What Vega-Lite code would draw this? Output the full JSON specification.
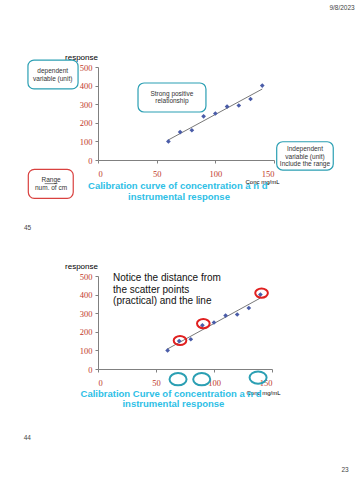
{
  "$schema": "https://vega.github.io/schema/vega-lite/v6.json",
  "autosize": "none",
  "padding": {"left": 98, "top": 67, "right": 262, "bottom": 413},
  "background": "white",
  "spacing": 116,
  "bounds": "flush",
  "config": {
    "view": {"stroke": null},
    "axis": {
      "grid": false,
      "labelFont": "Liberation Serif",
      "labelFontSize": 8.5,
      "labelColor": "#c0392b",
      "labelOverlap": false,
      "domainColor": "#808080",
      "tickColor": "#808080",
      "tickSize": 3,
      "titleFont": "Liberation Sans",
      "titleFontWeight": "normal",
      "titleColor": "#000000"
    }
  },
  "datasets": {
    "pts": [
      {"conc": 60, "response": 100},
      {"conc": 70, "response": 150},
      {"conc": 80, "response": 160},
      {"conc": 90, "response": 235},
      {"conc": 100, "response": 250},
      {"conc": 110, "response": 287},
      {"conc": 120, "response": 293},
      {"conc": 130, "response": 328},
      {"conc": 140, "response": 400}
    ],
    "topBoxes": [
      {"x": -59.7, "x2": -17, "y": 537, "y2": 382, "kind": "teal"},
      {"x": 34.1, "x2": 92, "y": 414, "y2": 258, "kind": "teal"},
      {"x": 152.3, "x2": 200.5, "y": 98, "y2": -54, "kind": "teal"},
      {"x": -59.4, "x2": -21.1, "y": -50, "y2": -206, "kind": "red"}
    ],
    "topBoxText": [
      {"x": -38.6, "y": 478, "t": "dependent"},
      {"x": -38.6, "y": 435, "t": "variable (unit)"},
      {"x": 63, "y": 355, "t": "Strong positive"},
      {"x": 63, "y": 317, "t": "relationship"},
      {"x": 176.4, "y": 59, "t": "Independent"},
      {"x": 176.4, "y": 18, "t": "variable (unit)"},
      {"x": 176.4, "y": -20, "t": "Include the range"},
      {"x": -40, "y": -110, "t": "Range"},
      {"x": -40, "y": -150, "t": "num. of cm"}
    ],
    "topTitle": [
      {"x": 68, "y": -140, "t": "Calibration curve of concentration a n d"},
      {"x": 69, "y": -197, "t": "instrumental response"}
    ],
    "topFooter": [
      {"x": 208, "y": 817, "t": "9/8/2023"},
      {"x": -60, "y": -366, "t": "45"}
    ],
    "rangeLine": [
      {"x": -45.5, "x2": -34.5, "y": -127}
    ],
    "notice": [
      {"x": 13, "y": 488, "t": "Notice the distance from"},
      {"x": 13, "y": 425, "t": "the scatter points"},
      {"x": 13, "y": 366, "t": "(practical) and the line"}
    ],
    "redRings": [
      {"x": 70.7, "y": 153},
      {"x": 90.8, "y": 244},
      {"x": 141, "y": 408}
    ],
    "tealRings": [
      {"x": 69, "y": -55},
      {"x": 89.4, "y": -55},
      {"x": 138, "y": -46}
    ],
    "botTitle": [
      {"x": 63, "y": -136, "t": "Calibration Curve of concentration a n d"},
      {"x": 65, "y": -190, "t": "instrumental response"}
    ],
    "botFooter": [
      {"x": -61, "y": -372, "t": "44"},
      {"x": 213, "y": -545, "t": "23"}
    ]
  },
  "vconcat": [
    {
      "width": 176,
      "height": 93,
      "layer": [
        {
          "data": {"name": "topBoxes"},
          "mark": {"type": "rect", "fill": "white", "cornerRadius": 6, "strokeWidth": 1.2},
          "encoding": {
            "x": {"field": "x", "type": "quantitative", "scale": {"domain": [0, 150], "nice": false}, "axis": {"values": [0, 50, 100, 150], "tickCount": 4, "labelOverlap": false, "title": "Conc mg/mL", "titleFontSize": 6, "titleX": 164, "titleY": 21, "titleAnchor": "middle", "titleAlign": "center", "titleBaseline": "middle", "labelPadding": 6}},
            "x2": {"field": "x2"},
            "y": {"field": "y", "type": "quantitative", "scale": {"domain": [0, 500], "nice": false}, "axis": {"values": [0, 100, 200, 300, 400, 500], "tickCount": 6, "labelOverlap": false, "title": "response", "titleFontSize": 8, "titleAngle": 0, "titleX": -17, "titleY": -10, "titleAlign": "center", "titleBaseline": "middle", "labelPadding": 3}},
            "y2": {"field": "y2"},
            "stroke": {"field": "kind", "type": "nominal", "scale": {"domain": ["teal", "red"], "range": ["#2b9fb3", "#d9413f"]}, "legend": null}
          }
        },
        {
          "data": {"name": "topBoxText"},
          "mark": {"type": "text", "font": "Liberation Sans", "fontSize": 6.5, "color": "#333333", "baseline": "middle", "align": "center"},
          "encoding": {
            "x": {"field": "x", "type": "quantitative"},
            "y": {"field": "y", "type": "quantitative"},
            "text": {"field": "t"}
          }
        },
        {
          "data": {"name": "rangeLine"},
          "mark": {"type": "rule", "color": "#333333", "strokeWidth": 0.6},
          "encoding": {
            "x": {"field": "x", "type": "quantitative"},
            "x2": {"field": "x2"},
            "y": {"field": "y", "type": "quantitative"}
          }
        },
        {
          "data": {"name": "pts"},
          "transform": [{"regression": "response", "on": "conc"}],
          "mark": {"type": "line", "color": "#555555", "strokeWidth": 0.8},
          "encoding": {
            "x": {"field": "conc", "type": "quantitative"},
            "y": {"field": "response", "type": "quantitative"}
          }
        },
        {
          "data": {"name": "pts"},
          "mark": {"type": "point", "shape": "diamond", "filled": true, "color": "#4a5ca8", "size": 22, "opacity": 1},
          "encoding": {
            "x": {"field": "conc", "type": "quantitative"},
            "y": {"field": "response", "type": "quantitative"}
          }
        },
        {
          "data": {"name": "topTitle"},
          "mark": {"type": "text", "font": "Liberation Sans", "fontSize": 9.5, "fontWeight": "bold", "color": "#2ec0e6", "baseline": "middle", "align": "center"},
          "encoding": {
            "x": {"field": "x", "type": "quantitative"},
            "y": {"field": "y", "type": "quantitative"},
            "text": {"field": "t"}
          }
        },
        {
          "data": {"name": "topFooter"},
          "mark": {"type": "text", "font": "Liberation Sans", "fontSize": 6.5, "color": "#444444", "baseline": "middle", "align": "center"},
          "encoding": {
            "x": {"field": "x", "type": "quantitative"},
            "y": {"field": "y", "type": "quantitative"},
            "text": {"field": "t"}
          }
        }
      ]
    },
    {
      "width": 174,
      "height": 93,
      "layer": [
        {
          "data": {"name": "pts"},
          "transform": [{"regression": "response", "on": "conc"}],
          "mark": {"type": "line", "color": "#555555", "strokeWidth": 0.8},
          "encoding": {
            "x": {"field": "conc", "type": "quantitative", "scale": {"domain": [0, 150], "nice": false}, "axis": {"values": [0, 50, 100, 150], "tickCount": 4, "labelOverlap": false, "title": "Conc mg/mL", "titleFontSize": 6, "titleX": 165, "titleY": 23, "titleAnchor": "middle", "titleAlign": "center", "titleBaseline": "middle", "labelPadding": 6}},
            "y": {"field": "response", "type": "quantitative", "scale": {"domain": [0, 500], "nice": false}, "axis": {"values": [0, 100, 200, 300, 400, 500], "tickCount": 6, "labelOverlap": false, "title": "response", "titleFontSize": 8, "titleAngle": 0, "titleX": -17, "titleY": -10, "titleAlign": "center", "titleBaseline": "middle", "labelPadding": 3}}
          }
        },
        {
          "data": {"name": "pts"},
          "mark": {"type": "point", "shape": "diamond", "filled": true, "color": "#4a5ca8", "size": 22, "opacity": 1},
          "encoding": {
            "x": {"field": "conc", "type": "quantitative"},
            "y": {"field": "response", "type": "quantitative"}
          }
        },
        {
          "data": {"name": "redRings"},
          "mark": {"type": "point", "shape": "M-1,0A1,0.72,0,1,1,1,0A1,0.72,0,1,1,-1,0Z", "filled": false, "stroke": "#e02020", "strokeWidth": 2, "size": 160, "opacity": 1},
          "encoding": {
            "x": {"field": "x", "type": "quantitative"},
            "y": {"field": "y", "type": "quantitative"}
          }
        },
        {
          "data": {"name": "tealRings"},
          "mark": {"type": "point", "shape": "M-1,0A1,0.72,0,1,1,1,0A1,0.72,0,1,1,-1,0Z", "filled": false, "stroke": "#2b9fb3", "strokeWidth": 2, "size": 290, "opacity": 1},
          "encoding": {
            "x": {"field": "x", "type": "quantitative"},
            "y": {"field": "y", "type": "quantitative"}
          }
        },
        {
          "data": {"name": "notice"},
          "mark": {"type": "text", "font": "Liberation Sans", "fontSize": 10, "color": "#111111", "baseline": "middle", "align": "left"},
          "encoding": {
            "x": {"field": "x", "type": "quantitative"},
            "y": {"field": "y", "type": "quantitative"},
            "text": {"field": "t"}
          }
        },
        {
          "data": {"name": "botTitle"},
          "mark": {"type": "text", "font": "Liberation Sans", "fontSize": 9.5, "fontWeight": "bold", "color": "#2ec0e6", "baseline": "middle", "align": "center"},
          "encoding": {
            "x": {"field": "x", "type": "quantitative"},
            "y": {"field": "y", "type": "quantitative"},
            "text": {"field": "t"}
          }
        },
        {
          "data": {"name": "botFooter"},
          "mark": {"type": "text", "font": "Liberation Sans", "fontSize": 6.5, "color": "#444444", "baseline": "middle", "align": "center"},
          "encoding": {
            "x": {"field": "x", "type": "quantitative"},
            "y": {"field": "y", "type": "quantitative"},
            "text": {"field": "t"}
          }
        }
      ]
    }
  ]
}
